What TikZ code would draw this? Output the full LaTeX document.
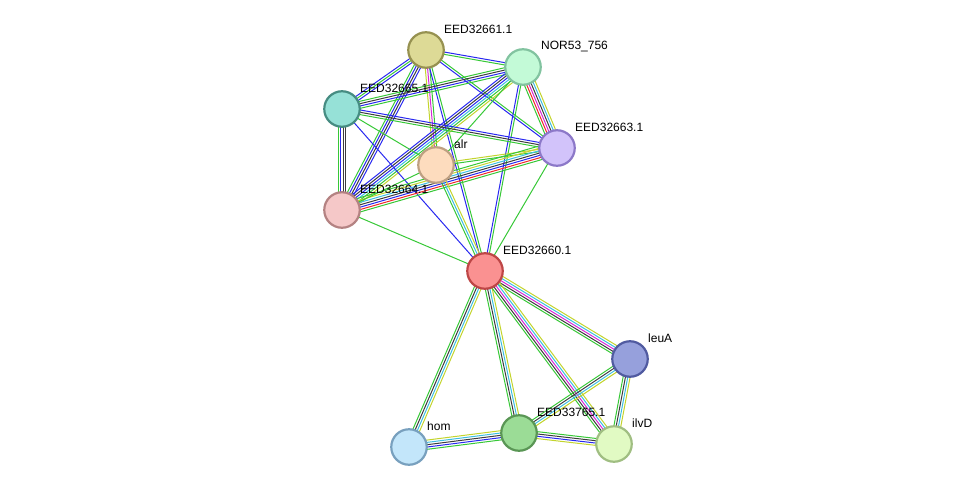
\documentclass[tikz,border=0pt]{standalone}
\usepackage{fontspec}
\setmainfont{Liberation Sans}
\usetikzlibrary{calc}

\pgfdeclarelayer{bg}
\pgfsetlayers{bg,main}

% STRING EVIDENCE COLOURS
\definecolor{sgreen}{RGB}{55,200,55}
\definecolor{sblue}{RGB}{40,40,240}
\definecolor{sblack}{RGB}{60,60,60}
\definecolor{scyan}{RGB}{60,190,225}
\definecolor{syellow}{RGB}{195,212,45}
\definecolor{smag}{RGB}{215,40,215}
\definecolor{sred}{RGB}{240,40,40}

\tikzset{
  prot/.style={circle, line width=2.2pt, minimum size=35.5pt, inner sep=0pt},
  lab/.style={anchor=west, xshift=17pt, yshift=2pt, inner sep=1pt, font=\fontsize{12}{14}\selectfont},
  edge/.style={line width=1pt}
}

\newcount\nlines
\newcommand{\ppedge}[3]{%
  \global\nlines=0
  \foreach \col in {#3}{\global\advance\nlines by 1}%
  \foreach \col [count=\i] in {#3}{%
    \pgfmathsetmacro\off{(\i-(\the\nlines+1)/2)*2.3}%
    \draw[edge,\col] ($(#1.center)!\off pt!90:(#2.center)$) -- ($(#2.center)!\off pt!-90:(#1.center)$);}}

\begin{document}
\begin{tikzpicture}[x=1pt,y=-1pt]
		\useasboundingbox (0,0) rectangle (976,492);

		% PROTEINS
		\node[prot, fill={rgb,255:red,221;green,218;blue,150}, draw={rgb,255:red,150;green,145;blue,80},
			label={[lab]90:EED32661.1}] (n61) at (426,50) {};
		\node[prot, fill={rgb,255:red,195;green,250;blue,215}, draw={rgb,255:red,130;green,195;blue,160},
			label={[lab]90:NOR53\_756}] (nor) at (523,67) {};
		\node[prot, fill={rgb,255:red,150;green,225;blue,215}, draw={rgb,255:red,70;green,140;blue,130},
			label={[lab]90:EED32665.1}] (n65) at (342,109) {};
		\node[prot, fill={rgb,255:red,210;green,195;blue,250}, draw={rgb,255:red,140;green,120;blue,200},
			label={[lab]90:EED32663.1}] (n63) at (557,148) {};
		\node[prot, fill={rgb,255:red,253;green,220;blue,190}, draw={rgb,255:red,190;green,160;blue,130},
			label={[lab]90:alr}] (alr) at (436,165) {};
		\node[prot, fill={rgb,255:red,245;green,200;blue,200}, draw={rgb,255:red,180;green,130;blue,130},
			label={[lab]90:EED32664.1}] (n64) at (342,210) {};
		\node[prot, fill={rgb,255:red,250;green,145;blue,145}, draw={rgb,255:red,190;green,70;blue,70},
			label={[lab]90:EED32660.1}] (n60) at (485,271) {};
		\node[prot, fill={rgb,255:red,150;green,160;blue,220}, draw={rgb,255:red,80;green,90;blue,160},
			label={[lab]90:leuA}] (leuA) at (630,359) {};
		\node[prot, fill={rgb,255:red,195;green,230;blue,250}, draw={rgb,255:red,120;green,160;blue,190},
			label={[lab]90:hom}] (hom) at (409,447) {};
		\node[prot, fill={rgb,255:red,155;green,220;blue,150}, draw={rgb,255:red,90;green,150;blue,85},
			label={[lab]90:EED33765.1}] (n765) at (519,433) {};
		\node[prot, fill={rgb,255:red,225;green,250;blue,195}, draw={rgb,255:red,160;green,190;blue,130},
			label={[lab]90:ilvD}] (ilvD) at (614,444) {};

		% INTERACTIONS
		\begin{pgfonlayer}{bg}
		\ppedge{n61}{nor}{sgreen,sblue}
		\ppedge{n61}{n65}{sblue,sgreen,sblue}
		\ppedge{n61}{n63}{sblue,sgreen}
		\ppedge{n61}{n64}{sgreen,sblue,sblack,sblue}
		\ppedge{n61}{alr}{syellow,smag,sgreen}
		\ppedge{n61}{n60}{sblue,sgreen}
		\ppedge{nor}{n65}{sgreen,sblack,sblue,sgreen}
		\ppedge{nor}{n63}{sgreen,sred,smag,sblack,scyan,syellow}
		\ppedge{nor}{n64}{sblue,sblack,sblue,scyan,sgreen,syellow}
		\ppedge{nor}{alr}{sgreen}
		\ppedge{nor}{n60}{sblue,sgreen}
		\ppedge{n65}{n63}{sgreen,sblack,sblue}
		\ppedge{n65}{n64}{sgreen,sblue,sblack,sblack}
		\ppedge{n65}{alr}{sgreen}
		\ppedge{n65}{n60}{sblue}
		\ppedge{n63}{alr}{syellow,sgreen}
		\ppedge{n63}{n64}{sgreen,syellow,scyan,sblack,sblue,sred,sgreen}
		\ppedge{n63}{n60}{sgreen}
		\ppedge{alr}{n64}{sgreen}
		\ppedge{alr}{n60}{sgreen,scyan,syellow}
		\ppedge{n64}{n60}{sgreen}
		\ppedge{n60}{leuA}{sgreen,sblack,smag,scyan,syellow}
		\ppedge{n60}{hom}{sgreen,sblack,scyan,syellow}
		\ppedge{n60}{n765}{sgreen,sblack,scyan,syellow}
		\ppedge{n60}{ilvD}{sgreen,sblack,smag,scyan,syellow}
		\ppedge{leuA}{n765}{sgreen,sblack,scyan,syellow}
		\ppedge{leuA}{ilvD}{sgreen,sblack,scyan,syellow}
		\ppedge{hom}{n765}{sgreen,sblue,sblack,scyan,syellow}
		\ppedge{n765}{ilvD}{syellow,sblue,sblack,sgreen}
		\end{pgfonlayer}
	\end{tikzpicture}
\end{document}
